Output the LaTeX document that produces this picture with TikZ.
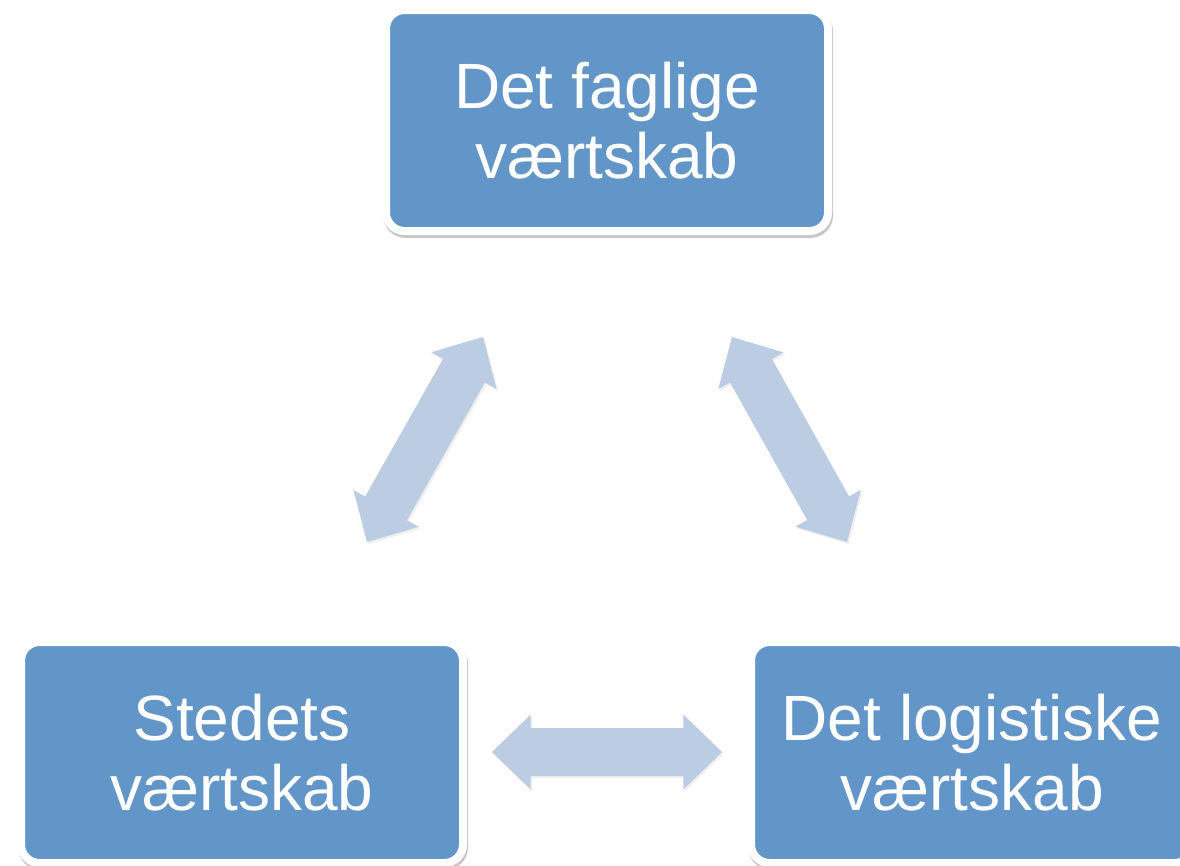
\documentclass[tikz,border=0pt]{standalone}
\usepackage{fontspec}
\setmainfont{Liberation Sans}
\usetikzlibrary{calc,shadows}
\definecolor{boxblue}{RGB}{98,150,201}
\definecolor{arrowblue}{RGB}{187,204,227}
\tikzset{
  hostbox/.style={rectangle, rounded corners=14pt, fill=boxblue, draw=white,
    line width=6pt, minimum width=331.5pt, minimum height=165.75pt,
    inner sep=0pt, text=white, font=\fontsize{48}{52.5}\selectfont, align=center,
    drop shadow={shadow xshift=0.8pt, shadow yshift=-2.2pt, opacity=0.22,
      fill=black, draw=black, line width=6pt}},
  arrowfill/.style={fill=arrowblue,
    drop shadow={shadow xshift=1.2pt, shadow yshift=-1.5pt, opacity=0.12}}
}
\newcommand\dblblockarrow[2]{%
  \coordinate (h1) at ($(#1)!29pt!(#2)$);
  \coordinate (h2) at ($(#2)!29pt!(#1)$);
  \fill[arrowfill] (#1)
    -- ($(h1)!28.1pt!90:(#2)$) -- ($(h1)!18pt!90:(#2)$)
    -- ($(h2)!18pt!-90:(#1)$) -- ($(h2)!28.1pt!-90:(#1)$)
    -- (#2)
    -- ($(h2)!28.1pt!90:(#1)$) -- ($(h2)!18pt!90:(#1)$)
    -- ($(h1)!18pt!-90:(#2)$) -- ($(h1)!28.1pt!-90:(#2)$)
    -- cycle;
}
\begin{document}
\begin{tikzpicture}[x=0.75pt, y=-0.75pt]
  \useasboundingbox (0,0) rectangle (1180,865);
  \clip (0,0) rectangle (1180,865);
  \fill[white] (0,0) rectangle (1180,865);
  % arrows
  \coordinate (la) at (367,542);
  \coordinate (lb) at (483,337);
  \coordinate (ra) at (732,337);
  \coordinate (rb) at (847,542);
  \coordinate (ba) at (492,752);
  \coordinate (bb) at (722,752);
  \dblblockarrow{la}{lb}
  \dblblockarrow{ra}{rb}
  \dblblockarrow{ba}{bb}
  % boxes
  \node[hostbox] (faglige) at (607,120.5) {Det faglige\\værtskab};
  \node[hostbox] (stedets) at (242,752.5) {Stedets\\værtskab};
  \node[hostbox] (logistiske) at (972,752.5) {Det logistiske\\værtskab};
\end{tikzpicture}
\end{document}
